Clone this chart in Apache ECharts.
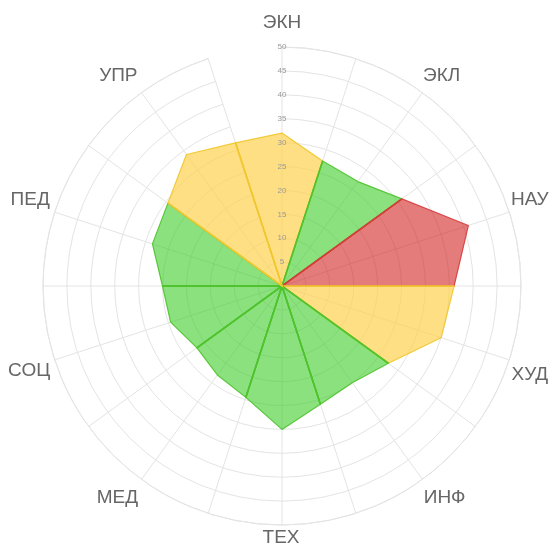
<!DOCTYPE html>
<html>
<head>
<meta charset="utf-8">
<script src="https://cdn.jsdelivr.net/npm/echarts@6/dist/echarts.min.js"></script>
<style>html,body{margin:0;padding:0;background:#fff}#c{width:552px;height:547px}</style>
</head>
<body>
<div id="c"></div>
<script>
// Categories (clockwise from top)
const categories = ['ЭКН','ЭКЛ','НАУ','ХУД','ИНФ','ТЕХ','МЕД','СОЦ','ПЕД','УПР'];
// Value on each category axis
const categoryValues = [32, 27, 41, 35, 25, 30, 23, 24.5, 28.5, 34];
// Value on the boundary spoke following each category (clockwise)
const boundaryValues = [27.5, 31, 36, 27.5, 26, 24.5, 22, 25, 29.5, 31.5];
// Level of each category: 0 = green, 1 = yellow, 2 = red
const categoryLevels = [1, 0, 2, 1, 0, 0, 0, 0, 0, 1];
// Radius tick labels
const radiusTicks = [0, 5, 10, 15, 20, 25, 30, 35, 40, 45, 50];

const fills = ['rgba(60,205,40,0.6)', 'rgba(255,210,80,0.7)', 'rgba(210,30,30,0.58)'];
const strokes = ['rgba(80,195,45,0.9)', 'rgba(240,200,50,0.95)', 'rgba(215,60,60,0.9)'];

const n = categories.length;
const rMax = radiusTicks[radiusTicks.length - 1];
// pixel nudges for category labels (layout only)
const labelNudge = [[0,2],[4,4],[-4,-4],[-4,7],[7,-2],[-1,-13],[-9,-2],[-1,3],[0,-4],[-8,4]];

const angleSlots = [];
categories.forEach((c, i) => { angleSlots.push(c); angleSlots.push('b' + i); });

const chart = echarts.init(document.getElementById('c'), null, { renderer: 'canvas' });

function renderWedge(params, api) {
  const i = params.dataIndex;
  const prev = (i + n - 1) % n;
  const center = api.coord([0, 0]);
  const pL = api.coord([boundaryValues[prev], (2 * i + 2 * n - 1) % (2 * n)]);
  const pC = api.coord([categoryValues[i], 2 * i]);
  const pR = api.coord([boundaryValues[i], 2 * i + 1]);
  const lvl = categoryLevels[i];
  return {
    type: 'group',
    children: [
      {
        type: 'polygon',
        shape: { points: [center, pL, pC, pR] },
        style: { fill: fills[lvl], stroke: strokes[lvl], lineWidth: 1.2, lineJoin: 'round' }
      },
      {
        type: 'polyline',
        shape: { points: [pL, center, pR] },
        style: { fill: null, stroke: strokes[lvl], lineWidth: 1.6 }
      }
    ]
  };
}

function renderLabel(params, api) {
  const i = params.dataIndex;
  const p = api.coord([rMax * 1.108, 2 * i]);
  return {
    type: 'text',
    x: p[0] + labelNudge[i][0],
    y: p[1] + labelNudge[i][1],
    style: {
      text: categories[i],
      fill: '#666',
      font: '19px "Liberation Sans", Arial, sans-serif',
      align: 'center',
      verticalAlign: 'middle'
    }
  };
}

const grey = '#e4e4e4';
const option = {
  backgroundColor: '#fff',
  animation: false,
  polar: [
    { center: [282, 286], radius: 239 },
    { center: [282, 286], radius: 239 }
  ],
  angleAxis: [
    {
      polarIndex: 0,
      type: 'category',
      data: angleSlots,
      boundaryGap: false,
      startAngle: 90,
      clockwise: true,
      axisLine: { show: true, lineStyle: { color: grey, width: 1 } },
      axisTick: { show: false },
      splitLine: { show: true, lineStyle: { color: grey, width: 1 } },
      axisLabel: { show: false }
    },
    {
      polarIndex: 1,
      type: 'value',
      min: 0,
      max: 360,
      show: false
    }
  ],
  radiusAxis: [
    {
      polarIndex: 0,
      type: 'value',
      min: radiusTicks[0],
      max: rMax,
      interval: radiusTicks[1] - radiusTicks[0],
      axisLine: { show: false },
      axisTick: { show: false },
      axisLabel: { show: false },
      splitLine: { show: true, lineStyle: { color: grey, width: 1 } }
    },
    {
      polarIndex: 1,
      type: 'value',
      z: 10,
      min: radiusTicks[0],
      max: rMax,
      interval: radiusTicks[1] - radiusTicks[0],
      axisLine: { show: false },
      axisTick: { show: false },
      splitLine: { show: false },
      axisLabel: {
        show: true,
        margin: 0,
        align: 'center',
        verticalAlign: 'middle',
        fontSize: 8,
        color: '#999',
        fontFamily: '"Liberation Sans", Arial, sans-serif',
        formatter: v => (v === 0 ? '' : String(v))
      }
    }
  ],
  series: [
    {
      type: 'custom',
      coordinateSystem: 'polar',
      polarIndex: 0,
      z: 3,
      renderItem: renderWedge,
      data: categories.map((c, i) => [categoryValues[i], 2 * i]),
      encode: { radius: 0, angle: 1 },
      silent: true
    },
    {
      type: 'custom',
      coordinateSystem: 'polar',
      polarIndex: 0,
      z: 5,
      renderItem: renderLabel,
      data: categories.map((c, i) => [0, 2 * i]),
      encode: { radius: 0, angle: 1 },
      silent: true
    }
  ]
};
chart.setOption(option);
</script>
</body>
</html>
